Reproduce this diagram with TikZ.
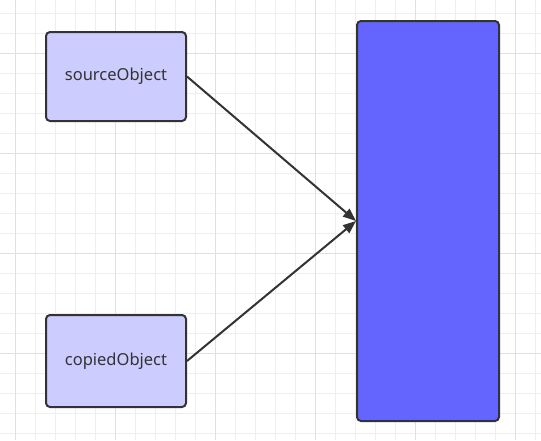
\documentclass[tikz,border=0pt]{standalone}
\usepackage{fontspec}
\setmainfont{Noto Sans}
\usetikzlibrary{arrows.meta}
\definecolor{gridminor}{HTML}{EEEEEE}
\definecolor{gridmajor}{HTML}{E0E0E0}
\definecolor{lightblue}{HTML}{CCCCFF}
\definecolor{strongblue}{HTML}{6464FF}
\definecolor{edgegray}{HTML}{333333}
\tikzset{
  smallbox/.style={draw=edgegray, line width=2pt, fill=lightblue, rounded corners=4pt,
    minimum width=140pt, minimum height=89pt, inner sep=0pt, text=edgegray,
    font=\fontsize{16.5pt}{20pt}\selectfont},
  bigbox/.style={draw=edgegray, line width=2pt, fill=strongblue, rounded corners=4pt,
    minimum width=142pt, minimum height=400pt, inner sep=0pt},
  conn/.style={draw=edgegray, line width=2pt, -{Triangle[length=13pt,width=10pt]}}
}
\begin{document}
\begin{tikzpicture}[x=1pt,y=-1pt]
\useasboundingbox (0,0) rectangle (541,440);
\fill[white] (0,0) rectangle (541,440);
\foreach \gx in {15,35,...,535} \draw[gridminor, line width=1pt] (\gx,0) -- (\gx,440);
\foreach \gy in {13,33,...,433} \draw[gridminor, line width=1pt] (0,\gy) -- (541,\gy);
\foreach \gx in {15,115,...,515} \draw[gridmajor, line width=1pt] (\gx,0) -- (\gx,440);
\foreach \gy in {53,153,...,353} \draw[gridmajor, line width=1pt] (0,\gy) -- (541,\gy);
\node[smallbox] (src) at (116,76.5) {sourceObject};
\node[smallbox, minimum height=92pt] (cop) at (116,361) {copiedObject};
\node[bigbox] (tgt) at (428,221) {};
\draw[conn] (src.east) -- (tgt.west);
\draw[conn] (cop.east) -- (tgt.west);
\end{tikzpicture}
\end{document}
